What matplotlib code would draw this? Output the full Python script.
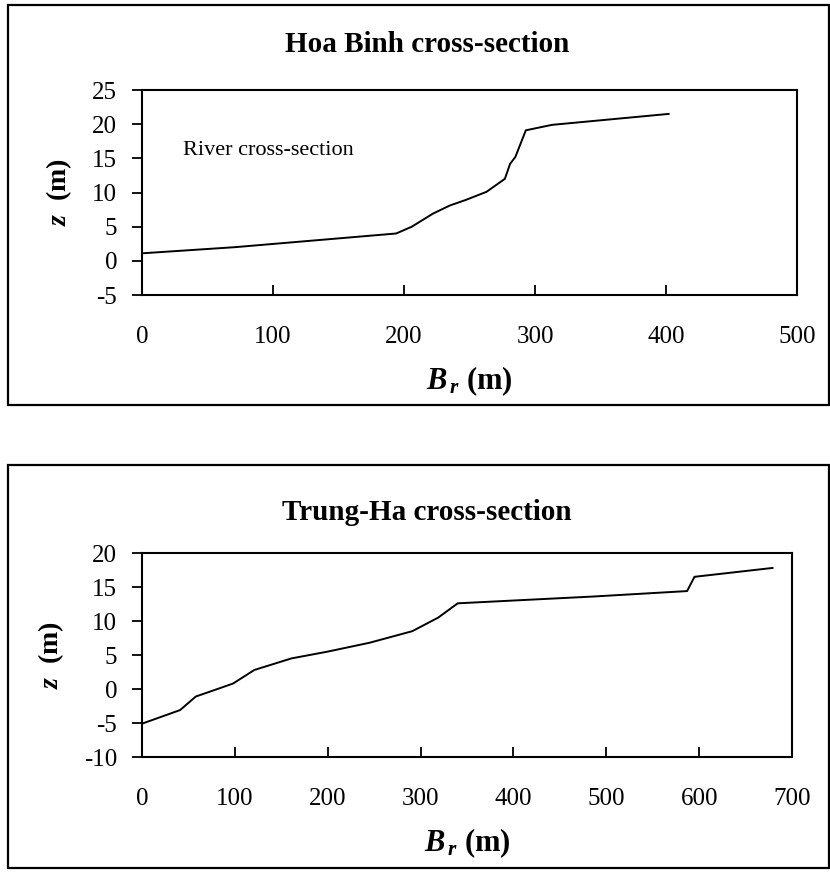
import matplotlib
matplotlib.use("Agg")
import matplotlib.pyplot as plt
from matplotlib.patches import Rectangle

# --- Data ---
hb_x = [0, 71, 194, 206, 222, 235, 247, 263, 277, 281, 285, 293, 313, 402]
hb_z = [1.1, 2.0, 4.0, 5.0, 6.9, 8.1, 8.9, 10.1, 12.0, 14.2, 15.2, 19.1, 19.9, 21.5]

th_x = [0, 41, 58, 75, 98, 121, 161, 200, 245, 291, 319, 340, 486, 587, 595, 679]
th_z = [-5.1, -3.1, -1.1, -0.3, 0.8, 2.8, 4.5, 5.5, 6.8, 8.5, 10.5, 12.6, 13.6, 14.4, 16.5, 17.8]

hb_xticks = [0, 100, 200, 300, 400, 500]
hb_yticks = [-5, 0, 5, 10, 15, 20, 25]
th_xticks = [0, 100, 200, 300, 400, 500, 600, 700]
th_yticks = [-10, -5, 0, 5, 10, 15, 20]

plt.rcParams['font.family'] = 'Liberation Serif'
plt.rcParams['mathtext.fontset'] = 'custom'
plt.rcParams['mathtext.rm'] = 'Liberation Serif:bold'
plt.rcParams['mathtext.it'] = 'Liberation Serif:italic:bold'

W, H = 830, 873
fig = plt.figure(figsize=(W / 100, H / 100), dpi=100)


def fx(px):
    return px / W


def fy(py):
    return 1 - py / H


# panel frames
for top, bot in [(5, 405), (465, 868)]:
    fig.patches.append(Rectangle((fx(8), fy(bot)), fx(821), (bot - top) / H,
                                 transform=fig.transFigure, fill=False,
                                 edgecolor='black', linewidth=1.6))


def panel(rect, x, z, xticks, yticks, title, title_y):
    ax = fig.add_axes(rect)
    ax.plot(x, z, color='black', linewidth=1.4)
    ax.set_xlim(xticks[0], xticks[-1])
    ax.set_ylim(yticks[0], yticks[-1])
    ax.set_xticks(xticks)
    ax.set_yticks(yticks)
    ax.set_xticklabels([str(t) for t in xticks], fontsize=18)
    ax.set_yticklabels([str(t) for t in yticks], fontsize=18)
    ax.tick_params(axis='x', direction='in', length=7, width=1.3, pad=22)
    ax.tick_params(axis='y', direction='out', length=7, width=1.3, pad=11)
    for s in ax.spines.values():
        s.set_linewidth(1.5)
    ax.set_xlabel(r'$B_{\,r}$ (m)', fontsize=22, fontweight='bold', labelpad=12)
    ax.set_ylabel(r'$z$  (m)', fontsize=20, fontweight='bold', labelpad=13)
    fig.text(fx(427), fy(title_y), title, ha='center', va='center',
             fontsize=21, fontweight='bold')
    return ax


ax1 = panel([fx(142), fy(295), fx(797 - 142), 205 / H], hb_x, hb_z,
            hb_xticks, hb_yticks, 'Hoa Binh cross-section', 45)
ax1.text(31, 16.2, 'River cross-section', fontsize=16, ha='left', va='center')

ax2 = panel([fx(142), fy(757), fx(792 - 142), 204 / H], th_x, th_z,
            th_xticks, th_yticks, 'Trung-Ha cross-section', 513)

fig.savefig('out.png', dpi=100)
